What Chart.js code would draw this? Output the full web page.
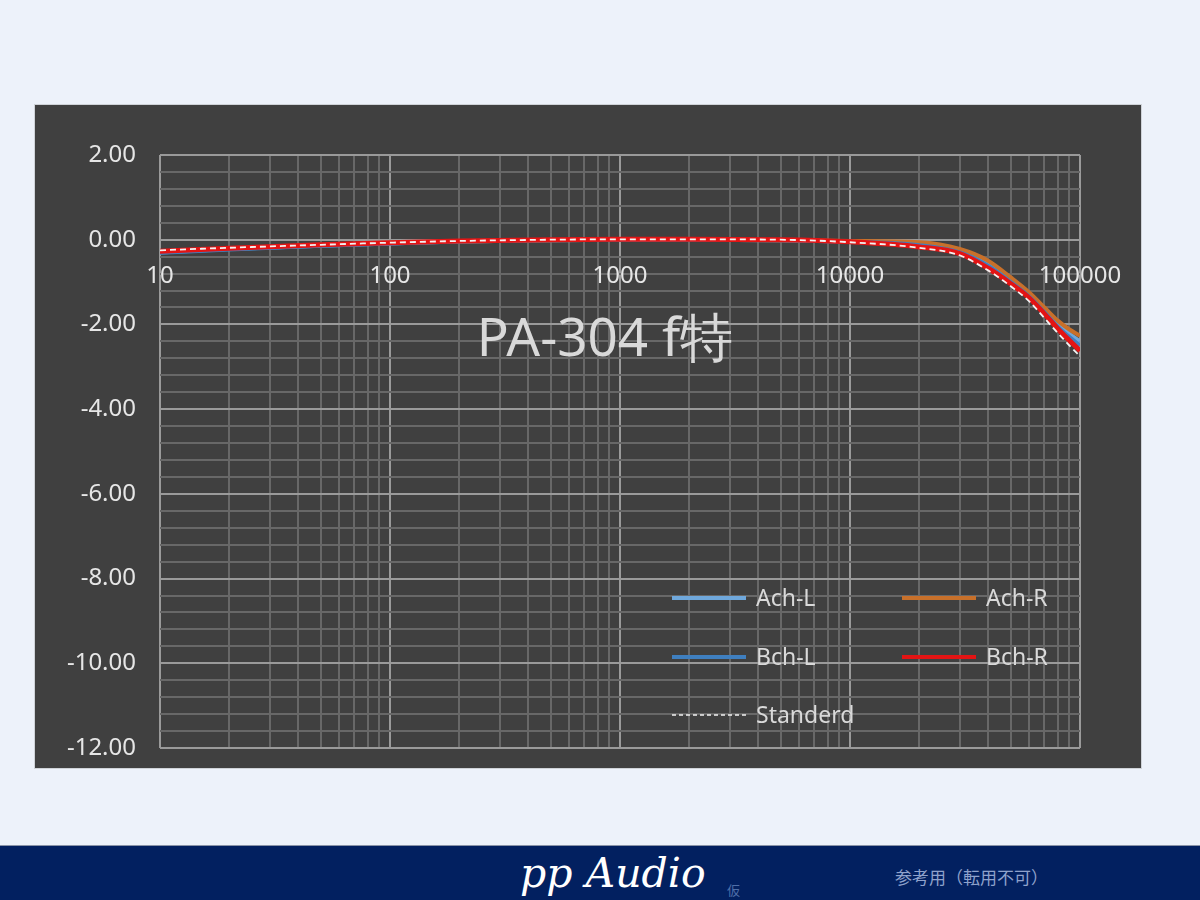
<!DOCTYPE html>
<html>
<head>
<meta charset="utf-8">
<script src="https://cdn.jsdelivr.net/npm/chart.js@4"></script>
<style>
  body { margin: 0; background: #edf2fa; }
  #page { position: relative; width: 1200px; height: 900px; background: #edf2fa; overflow: hidden; }
  #panel { position: absolute; left: 34px; top: 104px; width: 1106px; height: 663px; background: #404040; border: 1px solid #cfd3d8; }
  #footer { position: absolute; left: 0; top: 845px; width: 1200px; height: 55px; background: #022060; border-top: 1px solid #8a94a8; }
  #brand { position: absolute; left: 520px; top: 3px; font: italic 41px "DejaVu Serif", serif; color: #fff; }
  #kari { position: absolute; left: 727px; top: 34px; font: 13px "Noto Sans CJK JP"; color: #4f6fa8; }
  #note { position: absolute; left: 895px; top: 18px; font: 17px "Noto Sans CJK JP"; color: #8fa2cc; }
</style>
</head>
<body>
<div id="page">
  <div id="panel"><canvas id="chart" width="1106" height="663"></canvas></div>
  <div id="footer">
    <div id="brand">pp Audio</div>
    <div id="kari">仮</div>
    <div id="note">参考用（転用不可）</div>
  </div>
</div>
<script>
// Data
const freqs = [10, 20, 50, 100, 200, 500, 1000, 2000, 5000, 10000, 20000, 30000, 40000, 50000, 60000, 70000, 80000, 90000, 100000];
const achL = [-0.30, -0.22, -0.14, -0.09, -0.04, -0.01, 0, 0, -0.01, -0.04, -0.10, -0.28, -0.58, -0.95, -1.30, -1.66, -1.98, -2.22, -2.40];
const achR = [-0.29, -0.21, -0.13, -0.08, -0.04, -0.01, 0, 0, -0.01, -0.03, -0.06, -0.22, -0.50, -0.89, -1.24, -1.60, -1.91, -2.12, -2.27];
const bchL = [-0.31, -0.23, -0.14, -0.09, -0.04, -0.01, 0, 0, -0.01, -0.05, -0.13, -0.30, -0.62, -1.00, -1.34, -1.71, -2.05, -2.30, -2.50];
const bchR = [-0.27, -0.20, -0.12, -0.07, -0.03, 0, 0.01, 0.01, 0, -0.05, -0.17, -0.33, -0.68, -1.04, -1.37, -1.75, -2.10, -2.38, -2.62];
const standerd = [-0.25, -0.19, -0.12, -0.07, -0.03, 0, 0.01, 0.01, 0, -0.06, -0.19, -0.37, -0.73, -1.10, -1.45, -1.85, -2.20, -2.50, -2.75];

const xLabels = [10, 100, 1000, 10000, 100000];
const yLabels = [2, 0, -2, -4, -6, -8, -10, -12];
const chartTitle = 'PA-304 f特';

// grid ticks: 1..9 per decade, y every 0.4
const xGrid = [];
for (let d = 0; d < xLabels.length - 1; d++) {
  for (let m = 1; m < 10; m++) xGrid.push(xLabels[d] * m);
}
xGrid.push(xLabels[xLabels.length - 1]);
const yGrid = [];
for (let i = -30; i <= 5; i++) yGrid.push(Math.round(i * 4) / 10);

const isMajorY = v => yLabels.some(l => Math.abs(l - v) < 1e-6);
const isMajorX = v => xLabels.includes(v);

const pts = arr => arr.map((y, i) => ({ x: freqs[i], y: y }));

const line = (label, data, color, order, extra) => Object.assign({
  label: label,
  data: pts(data),
  borderColor: color,
  backgroundColor: color,
  borderWidth: 4,
  pointRadius: 0,
  cubicInterpolationMode: 'monotone',
  fill: false,
  order: order
}, extra || {});

// title drawn over the plot area
const titlePlugin = {
  id: 'overTitle',
  beforeDatasetsDraw(chart) {
    const { ctx } = chart;
    ctx.save();
    ctx.font = '53px "Noto Sans", sans-serif';
    ctx.fillStyle = '#d9d9d9';
    ctx.textAlign = 'center';
    ctx.textBaseline = 'middle';
    ctx.fillText(chartTitle, 570, 236);
    ctx.restore();
  }
};

// legend inside the plot, two columns
const legendPlugin = {
  id: 'innerLegend',
  afterDatasetsDraw(chart) {
    const { ctx } = chart;
    const cols = [637, 867];
    const rows = [493, 552, 610];
    ctx.save();
    ctx.font = '23px "Noto Sans", sans-serif';
    ctx.textBaseline = 'middle';
    chart.data.datasets.forEach((ds, i) => {
      const x = cols[i % 2];
      const y = rows[Math.floor(i / 2)];
      ctx.beginPath();
      ctx.strokeStyle = ds.borderColor;
      ctx.lineWidth = ds.borderDash ? 1.5 : 4;
      ctx.setLineDash(ds.borderDash ? [4, 3] : []);
      ctx.moveTo(x, y);
      ctx.lineTo(x + 74, y);
      ctx.stroke();
      ctx.setLineDash([]);
      ctx.fillStyle = '#d9d9d9';
      ctx.fillText(ds.label, x + 84, y + 1);
    });
    ctx.restore();
  }
};

const ctx = document.getElementById('chart').getContext('2d');
new Chart(ctx, {
  type: 'line',
  data: {
    datasets: [
      line('Ach-L', achL, '#6fa8dc', 5),
      line('Ach-R', achR, '#c8702a', 4),
      line('Bch-L', bchL, '#3f7fbf', 3),
      line('Bch-R', bchR, '#e31414', 2, { borderWidth: 5 }),
      line('Standerd', standerd, '#f2f2f2', 1, { borderWidth: 1.8, borderDash: [6, 4] })
    ]
  },
  options: {
    responsive: false,
    animation: false,
    layout: { padding: { left: 0, top: 50, right: 61, bottom: 20 } },
    plugins: { legend: { display: false }, title: { display: false }, tooltip: { enabled: false } },
    scales: {
      x: {
        type: 'logarithmic',
        position: { y: 0 },
        min: 10,
        max: 100000,
        afterBuildTicks: scale => { scale.ticks = xGrid.map(v => ({ value: v })); },
        afterFit: scale => {
          scale.height = 0;
          scale.paddingLeft = 0;
          scale.paddingRight = 0;
        },
        grid: {
          drawTicks: false,
          color: c => (c.tick && isMajorX(c.tick.value)) ? '#9a9a9a' : '#686868',
          lineWidth: 2
        },
        border: { display: false },
        ticks: {
          autoSkip: false,
          maxRotation: 0,
          padding: 22,
          color: '#e6e6e6',
          font: { family: '"Noto Sans", sans-serif', size: 24 },
          callback: v => isMajorX(v) ? String(v) : ''
        }
      },
      y: {
        min: -12,
        max: 2,
        afterBuildTicks: scale => { scale.ticks = yGrid.map(v => ({ value: v })); },
        afterFit: scale => {
          scale.width = 125;
          scale.paddingTop = 0;
          scale.paddingBottom = 0;
        },
        grid: {
          drawTicks: false,
          color: c => (c.tick && isMajorY(c.tick.value)) ? '#9a9a9a' : '#686868',
          lineWidth: 2
        },
        border: { display: false },
        ticks: {
          autoSkip: false,
          padding: 24,
          color: '#e6e6e6',
          font: { family: '"Noto Sans", sans-serif', size: 24 },
          callback: v => isMajorY(v) ? v.toFixed(2) : ''
        }
      }
    }
  },
  plugins: [titlePlugin, legendPlugin]
});
</script>
</body>
</html>
